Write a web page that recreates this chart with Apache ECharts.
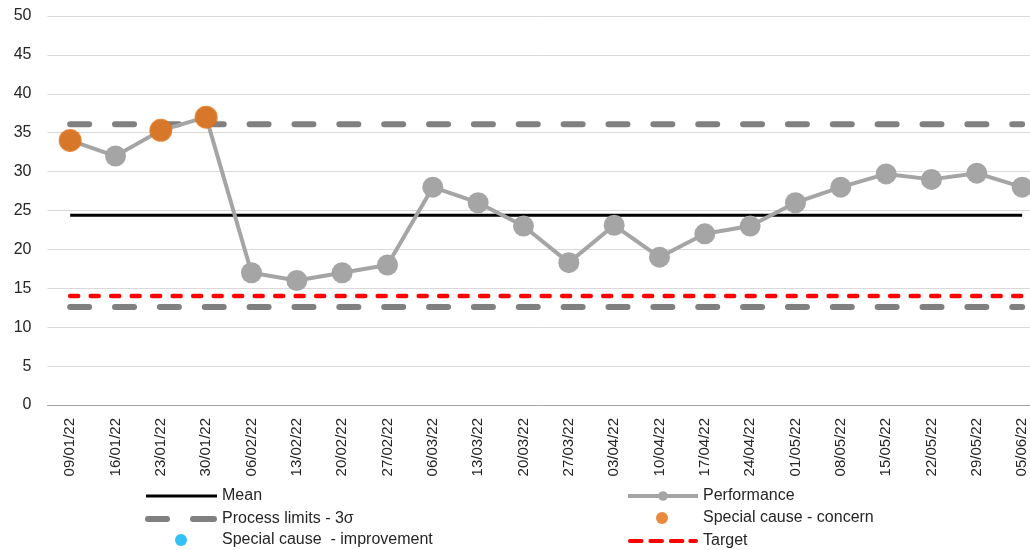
<!DOCTYPE html>
<html>
<head>
<meta charset="utf-8">
<script src="https://cdn.jsdelivr.net/npm/echarts@6/dist/echarts.min.js"></script>
<style>
  html, body { margin: 0; padding: 0; background: #fff; }
  #chart { width: 1030px; height: 550px; }
</style>
</head>
<body>
<div id="chart"></div>
<script>
// Weekly performance with SPC limits
const weeks = ['09/01/22','16/01/22','23/01/22','30/01/22','06/02/22','13/02/22','20/02/22','27/02/22',
  '06/03/22','13/03/22','20/03/22','27/03/22','03/04/22','10/04/22','17/04/22','24/04/22',
  '01/05/22','08/05/22','15/05/22','22/05/22','29/05/22','05/06/22'];
const performance = [34, 32, 35.3, 37, 17, 16, 17, 18, 28, 26, 23, 18.3, 23.1, 19, 22, 23, 26, 28, 29.7, 29, 29.8, 28];
const concern = [34, null, 35.3, 37, null, null, null, null, null, null, null, null, null, null, null, null, null, null, null, null, null, null];
const improvement = weeks.map(() => null);
const meanValue = 24.4;
const upperLimit = 36.1;
const lowerLimit = 12.6;
const targetValue = 14;
const yTicks = { min: 0, max: 50, step: 5 };

const flat = v => weeks.map(() => v);
const font = 'Liberation Sans, Arial, sans-serif';

// legend icons: dashed reference lines, and a dot centred in the icon slot
const ICON_LIMITS = 'path://M3,0H22A3,3 0 0 1 22,6H3A3,3 0 0 1 3,0Z M48,0H69A3,3 0 0 1 69,6H48A3,3 0 0 1 48,0Z';
const ICON_TARGET = 'path://M2,0H14A2,2 0 0 1 14,4H2A2,2 0 0 1 2,0Z M23,0H35A2,2 0 0 1 35,4H23A2,2 0 0 1 23,0Z M44,0H56A2,2 0 0 1 56,4H44A2,2 0 0 1 44,0Z M64,0H70A2,2 0 0 1 70,4H64A2,2 0 0 1 64,0Z';
const ICON_DOT = 'path://M0,6L0,6M72,6L72,6M30,6A6,6 0 1 1 42,6A6,6 0 1 1 30,6Z';

const legendText = { fontSize: 16, color: '#262626', fontFamily: font };
function legendAt(left, centerY, item, w, h) {
  return {
    left: left, top: centerY - 10, padding: 0, itemGap: 0,
    itemWidth: w, itemHeight: h,
    textStyle: Object.assign({ padding: [0, 0, 0, 0], lineHeight: 20 }, legendText),
    data: [item]
  };
}

const chart = echarts.init(document.getElementById('chart'));
chart.setOption({
  animation: false,
  backgroundColor: '#ffffff',
  textStyle: { fontFamily: font },
  grid: { left: 47.5, top: 16, width: 997.3, height: 389, containLabel: false, outerBoundsMode: 'none' },
  xAxis: {
    type: 'category',
    data: weeks,
    boundaryGap: true,
    axisLine: { lineStyle: { color: '#a6a6a6', width: 1 } },
    axisTick: { show: false },
    axisLabel: { rotate: 90, margin: 13, fontSize: 15, color: '#262626', fontFamily: font, interval: 0 }
  },
  yAxis: {
    type: 'value',
    min: yTicks.min, max: yTicks.max, interval: yTicks.step,
    axisLine: { show: false },
    axisTick: { show: false },
    axisLabel: { fontSize: 16, color: '#262626', margin: 16, fontFamily: font },
    splitLine: { lineStyle: { color: '#d9d9d9', width: 1 } }
  },
  legend: [
    legendAt(146, 496, { name: 'Mean', icon: 'rect', itemStyle: { color: '#000000' } }, 71, 3),
    legendAt(145, 519, { name: 'Process limits - 3σ', icon: ICON_LIMITS, itemStyle: { color: '#808080' } }, 72, 6),
    legendAt(145, 540, { name: 'Special cause  - improvement', icon: ICON_DOT }, 72, 12),
    legendAt(626, 496, { name: 'Performance', lineStyle: { width: 4, color: '#a5a5a5' } }, 70, 12),
    legendAt(626, 518, { name: 'Special cause - concern', icon: ICON_DOT }, 72, 12),
    legendAt(628, 541, { name: 'Target', icon: ICON_TARGET, itemStyle: { color: '#ff0000' } }, 70, 4)
  ],
  series: [
    {
      name: 'Mean', type: 'line', data: flat(meanValue), symbol: 'none',
      lineStyle: { color: '#000000', width: 3 }, itemStyle: { color: '#000000' }, z: 2
    },
    {
      name: 'Process limits - 3σ', type: 'line', data: flat(upperLimit), symbol: 'none',
      lineStyle: { color: '#808080', width: 6, type: [19, 25.86], cap: 'round' }, itemStyle: { color: '#808080' }, z: 2
    },
    {
      name: 'Process limits - 3σ', type: 'line', data: flat(lowerLimit), symbol: 'none',
      lineStyle: { color: '#808080', width: 6, type: [19, 25.86], cap: 'round' }, itemStyle: { color: '#808080' }, z: 2
    },
    {
      name: 'Target', type: 'line', data: flat(targetValue), symbol: 'none',
      lineStyle: { color: '#ff0000', width: 4.5, type: [8, 12.5], cap: 'round' }, itemStyle: { color: '#ff0000' }, z: 2
    },
    {
      name: 'Performance', type: 'line', data: performance, symbol: 'circle', symbolSize: 21,
      lineStyle: { color: '#a5a5a5', width: 4 }, itemStyle: { color: '#a5a5a5' }, z: 3
    },
    {
      name: 'Special cause - concern', type: 'scatter', data: concern, symbol: 'circle', symbolSize: 23,
      itemStyle: { color: '#e46c0a' }, z: 4
    },
    {
      name: 'Special cause  - improvement', type: 'scatter', data: improvement, symbol: 'circle', symbolSize: 23,
      itemStyle: { color: '#00b0f0' }, z: 4
    }
  ]
});
</script>
</body>
</html>
